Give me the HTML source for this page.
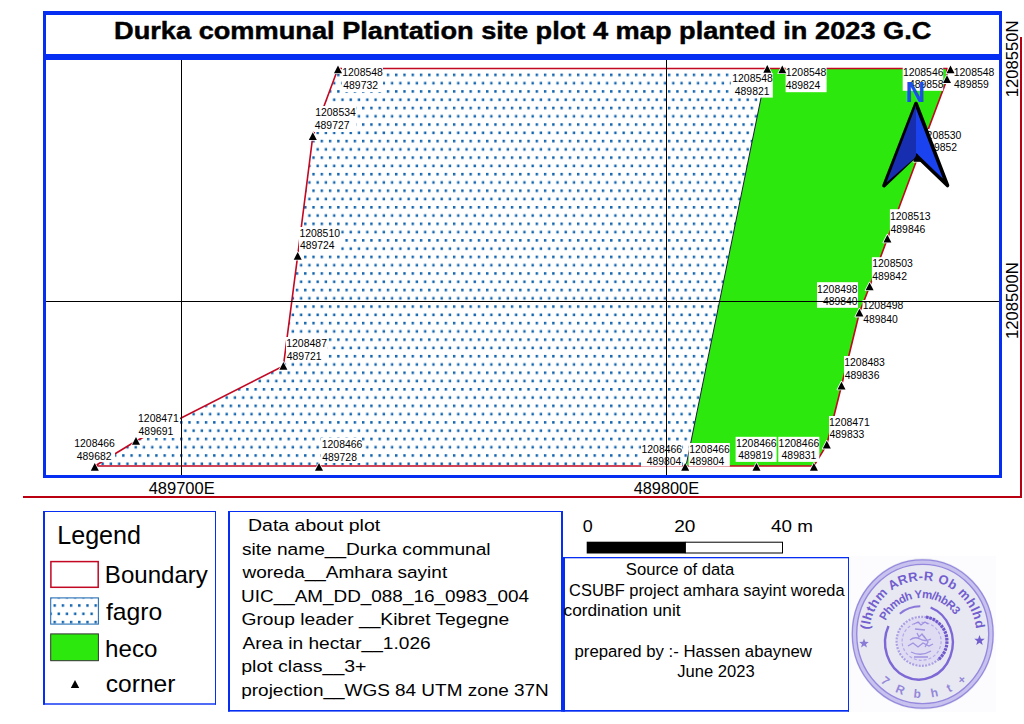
<!DOCTYPE html>
<html><head><meta charset="utf-8"><style>
html,body{margin:0;padding:0;background:#fff;}
body{width:1024px;height:724px;overflow:hidden;font-family:"Liberation Sans",sans-serif;}
svg{display:block;}
</style></head><body>
<svg width="1024" height="724" viewBox="0 0 1024 724">
<defs>
<pattern id="dots" patternUnits="userSpaceOnUse" x="626.6" y="73.6" width="8.27" height="16.548">
<rect x="0" y="0" width="2.4" height="2.6" fill="rgb(18,100,174)"/>
<rect x="4.135" y="8.274" width="2.4" height="2.6" fill="rgb(18,100,174)"/>
</pattern>
<pattern id="ldots" patternUnits="userSpaceOnUse" x="53.5" y="604.2" width="8.2" height="16.6">
<rect x="0" y="0" width="2.4" height="2.6" fill="rgb(18,100,174)"/>
<rect x="4.1" y="8.3" width="2.4" height="2.6" fill="rgb(18,100,174)"/>
</pattern>
<clipPath id="mapclip"><rect x="46" y="60" width="953" height="415"/></clipPath>
</defs>
<g clip-path="url(#mapclip)">
<polygon points="95,466 136,441 283.4,366 297.7,255.7 312.8,136.2 338,68.5 767,68.5 686,466" fill="url(#dots)"/>
<polygon points="767,68.5 946.8,68.5 947,79.3 917.5,158 887.4,238.7 869.6,286.5 859.4,312.8 841.5,385.7 826.8,444.8 813.9,466 686,466" fill="rgb(44,232,12)"/>
<line x1="767" y1="68.5" x2="686" y2="466" stroke="#1c1c40" stroke-width="1"/>
<polygon points="95,466 136,441 283.4,366 297.7,255.7 312.8,136.2 338,68.5 946.8,68.5 947,79.3 917.5,158 887.4,238.7 869.6,286.5 859.4,312.8 841.5,385.7 826.8,444.8 813.9,466" fill="none" stroke="rgb(194,8,34)" stroke-width="1.6"/>
<rect x="74" y="437" width="41" height="25" fill="#fff"/>
<rect x="138" y="411" width="42" height="27" fill="#fff"/>
<rect x="286" y="337" width="41" height="25" fill="#fff"/>
<rect x="299" y="227" width="42" height="25" fill="#fff"/>
<rect x="314" y="106" width="42" height="26" fill="#fff"/>
<rect x="342" y="66" width="41" height="26" fill="#fff"/>
<rect x="321" y="438" width="41" height="25" fill="#fff"/>
<rect x="731" y="73" width="41.799999999999955" height="24.599999999999994" fill="#fff"/>
<rect x="785.6" y="66.8" width="41.0" height="25.400000000000006" fill="#fff"/>
<rect x="902.7" y="67" width="40.5" height="23.799999999999997" fill="#fff"/>
<rect x="953.5" y="67" width="41.5" height="24" fill="#fff"/>
<rect x="920.5" y="129" width="41.5" height="25" fill="#fff"/>
<rect x="889.9" y="209.2" width="41.10000000000002" height="25.80000000000001" fill="#fff"/>
<rect x="871.9" y="257.2" width="40.30000000000007" height="24.30000000000001" fill="#fff"/>
<rect x="817" y="282.2" width="41" height="25.600000000000023" fill="#fff"/>
<rect x="862.5" y="300" width="41.5" height="25" fill="#fff"/>
<rect x="844" y="356" width="41" height="25" fill="#fff"/>
<rect x="829" y="416" width="41" height="25" fill="#fff"/>
<rect x="778.3" y="436.8" width="41.0" height="25.099999999999966" fill="#fff"/>
<rect x="735.6" y="436.8" width="41.0" height="25.099999999999966" fill="#fff"/>
<rect x="688.7" y="443" width="41.09999999999991" height="23.5" fill="#fff"/>
<rect x="641" y="443" width="41" height="23.5" fill="#fff"/>
<line x1="181.5" y1="60" x2="181.5" y2="475" stroke="#000" stroke-width="1"/>
<line x1="666.5" y1="60" x2="666.5" y2="475" stroke="#000" stroke-width="1"/>
<line x1="46" y1="301.5" x2="999" y2="301.5" stroke="#000" stroke-width="1"/>
<polygon points="94.8,463 90.8,470.8 98.8,470.8" fill="#000" stroke="#fff" stroke-width="1.6" paint-order="stroke" stroke-linejoin="round"/>
<polygon points="136,437 132,444.8 140,444.8" fill="#000" stroke="#fff" stroke-width="1.6" paint-order="stroke" stroke-linejoin="round"/>
<polygon points="283.4,362 279.4,369.8 287.4,369.8" fill="#000" stroke="#fff" stroke-width="1.6" paint-order="stroke" stroke-linejoin="round"/>
<polygon points="297.7,252 293.7,259.8 301.7,259.8" fill="#000" stroke="#fff" stroke-width="1.6" paint-order="stroke" stroke-linejoin="round"/>
<polygon points="312.8,132.2 308.8,140.0 316.8,140.0" fill="#000" stroke="#fff" stroke-width="1.6" paint-order="stroke" stroke-linejoin="round"/>
<polygon points="338,65.4 334,73.2 342,73.2" fill="#000" stroke="#fff" stroke-width="1.6" paint-order="stroke" stroke-linejoin="round"/>
<polygon points="319,463 315,470.8 323,470.8" fill="#000" stroke="#fff" stroke-width="1.6" paint-order="stroke" stroke-linejoin="round"/>
<polygon points="767.3,65 763.3,72.8 771.3,72.8" fill="#000" stroke="#fff" stroke-width="1.6" paint-order="stroke" stroke-linejoin="round"/>
<polygon points="782.3,65.5 778.3,73.3 786.3,73.3" fill="#000" stroke="#fff" stroke-width="1.6" paint-order="stroke" stroke-linejoin="round"/>
<polygon points="950.5,65.5 946.5,73.3 954.5,73.3" fill="#000" stroke="#fff" stroke-width="1.6" paint-order="stroke" stroke-linejoin="round"/>
<polygon points="947,75.3 943,83.1 951,83.1" fill="#000" stroke="#fff" stroke-width="1.6" paint-order="stroke" stroke-linejoin="round"/>
<polygon points="917.5,154 913.5,161.8 921.5,161.8" fill="#000" stroke="#fff" stroke-width="1.6" paint-order="stroke" stroke-linejoin="round"/>
<polygon points="887.4,234.7 883.4,242.5 891.4,242.5" fill="#000" stroke="#fff" stroke-width="1.6" paint-order="stroke" stroke-linejoin="round"/>
<polygon points="869.6,282.5 865.6,290.3 873.6,290.3" fill="#000" stroke="#fff" stroke-width="1.6" paint-order="stroke" stroke-linejoin="round"/>
<polygon points="859.4,308.8 855.4,316.6 863.4,316.6" fill="#000" stroke="#fff" stroke-width="1.6" paint-order="stroke" stroke-linejoin="round"/>
<polygon points="841.5,381.7 837.5,389.5 845.5,389.5" fill="#000" stroke="#fff" stroke-width="1.6" paint-order="stroke" stroke-linejoin="round"/>
<polygon points="826.8,440.8 822.8,448.6 830.8,448.6" fill="#000" stroke="#fff" stroke-width="1.6" paint-order="stroke" stroke-linejoin="round"/>
<polygon points="813.9,463 809.9,470.8 817.9,470.8" fill="#000" stroke="#fff" stroke-width="1.6" paint-order="stroke" stroke-linejoin="round"/>
<polygon points="756.5,463 752.5,470.8 760.5,470.8" fill="#000" stroke="#fff" stroke-width="1.6" paint-order="stroke" stroke-linejoin="round"/>
<polygon points="685.2,463 681.2,470.8 689.2,470.8" fill="#000" stroke="#fff" stroke-width="1.6" paint-order="stroke" stroke-linejoin="round"/>
<g font-family="Liberation Sans, sans-serif" fill="#000">
<text x="74.22" y="447.00" font-size="11" textLength="40.63" lengthAdjust="spacingAndGlyphs" xml:space="preserve">1208466</text>
<text x="76.79" y="459.90" font-size="11" textLength="34.75" lengthAdjust="spacingAndGlyphs" xml:space="preserve">489682</text>
<text x="138.02" y="421.60" font-size="11" textLength="40.69" lengthAdjust="spacingAndGlyphs" xml:space="preserve">1208471</text>
<text x="138.59" y="434.70" font-size="11" textLength="34.70" lengthAdjust="spacingAndGlyphs" xml:space="preserve">489691</text>
<text x="286.22" y="347.00" font-size="11" textLength="40.74" lengthAdjust="spacingAndGlyphs" xml:space="preserve">1208487</text>
<text x="286.79" y="359.50" font-size="11" textLength="34.70" lengthAdjust="spacingAndGlyphs" xml:space="preserve">489721</text>
<text x="299.42" y="236.70" font-size="11" textLength="40.58" lengthAdjust="spacingAndGlyphs" xml:space="preserve">1208510</text>
<text x="299.99" y="249.20" font-size="11" textLength="34.54" lengthAdjust="spacingAndGlyphs" xml:space="preserve">489724</text>
<text x="315.22" y="116.00" font-size="11" textLength="40.53" lengthAdjust="spacingAndGlyphs" xml:space="preserve">1208534</text>
<text x="314.79" y="129.20" font-size="11" textLength="34.75" lengthAdjust="spacingAndGlyphs" xml:space="preserve">489727</text>
<text x="342.22" y="75.60" font-size="11" textLength="40.63" lengthAdjust="spacingAndGlyphs" xml:space="preserve">1208548</text>
<text x="343.29" y="89.30" font-size="11" textLength="34.75" lengthAdjust="spacingAndGlyphs" xml:space="preserve">489732</text>
<text x="321.72" y="447.60" font-size="11" textLength="40.63" lengthAdjust="spacingAndGlyphs" xml:space="preserve">1208466</text>
<text x="322.29" y="460.70" font-size="11" textLength="34.64" lengthAdjust="spacingAndGlyphs" xml:space="preserve">489728</text>
<text x="732.22" y="82.00" font-size="11" textLength="40.63" lengthAdjust="spacingAndGlyphs" xml:space="preserve">1208548</text>
<text x="734.79" y="94.90" font-size="11" textLength="34.70" lengthAdjust="spacingAndGlyphs" xml:space="preserve">489821</text>
<text x="785.72" y="75.80" font-size="11" textLength="40.63" lengthAdjust="spacingAndGlyphs" xml:space="preserve">1208548</text>
<text x="785.79" y="88.60" font-size="11" textLength="34.54" lengthAdjust="spacingAndGlyphs" xml:space="preserve">489824</text>
<text x="902.92" y="75.90" font-size="11" textLength="40.63" lengthAdjust="spacingAndGlyphs" xml:space="preserve">1208546</text>
<text x="908.99" y="88.20" font-size="11" textLength="34.64" lengthAdjust="spacingAndGlyphs" xml:space="preserve">489858</text>
<text x="953.72" y="75.90" font-size="11" textLength="40.63" lengthAdjust="spacingAndGlyphs" xml:space="preserve">1208548</text>
<text x="954.09" y="88.20" font-size="11" textLength="34.70" lengthAdjust="spacingAndGlyphs" xml:space="preserve">489859</text>
<text x="920.82" y="138.70" font-size="11" textLength="40.58" lengthAdjust="spacingAndGlyphs" xml:space="preserve">1208530</text>
<text x="922.39" y="151.30" font-size="11" textLength="34.75" lengthAdjust="spacingAndGlyphs" xml:space="preserve">489852</text>
<text x="890.02" y="219.60" font-size="11" textLength="40.63" lengthAdjust="spacingAndGlyphs" xml:space="preserve">1208513</text>
<text x="890.59" y="232.80" font-size="11" textLength="34.64" lengthAdjust="spacingAndGlyphs" xml:space="preserve">489846</text>
<text x="872.22" y="266.60" font-size="11" textLength="40.63" lengthAdjust="spacingAndGlyphs" xml:space="preserve">1208503</text>
<text x="872.19" y="279.80" font-size="11" textLength="34.75" lengthAdjust="spacingAndGlyphs" xml:space="preserve">489842</text>
<text x="817.02" y="292.50" font-size="11" textLength="40.63" lengthAdjust="spacingAndGlyphs" xml:space="preserve">1208498</text>
<text x="822.99" y="305.40" font-size="11" textLength="34.59" lengthAdjust="spacingAndGlyphs" xml:space="preserve">489840</text>
<text x="862.72" y="309.30" font-size="11" textLength="40.63" lengthAdjust="spacingAndGlyphs" xml:space="preserve">1208498</text>
<text x="863.29" y="322.80" font-size="11" textLength="34.59" lengthAdjust="spacingAndGlyphs" xml:space="preserve">489840</text>
<text x="844.22" y="365.80" font-size="11" textLength="40.63" lengthAdjust="spacingAndGlyphs" xml:space="preserve">1208483</text>
<text x="844.79" y="378.70" font-size="11" textLength="34.64" lengthAdjust="spacingAndGlyphs" xml:space="preserve">489836</text>
<text x="829.02" y="425.50" font-size="11" textLength="40.69" lengthAdjust="spacingAndGlyphs" xml:space="preserve">1208471</text>
<text x="829.59" y="438.00" font-size="11" textLength="34.64" lengthAdjust="spacingAndGlyphs" xml:space="preserve">489833</text>
<text x="778.62" y="446.60" font-size="11" textLength="40.63" lengthAdjust="spacingAndGlyphs" xml:space="preserve">1208466</text>
<text x="781.59" y="458.80" font-size="11" textLength="34.70" lengthAdjust="spacingAndGlyphs" xml:space="preserve">489831</text>
<text x="736.02" y="446.60" font-size="11" textLength="40.63" lengthAdjust="spacingAndGlyphs" xml:space="preserve">1208466</text>
<text x="738.19" y="458.80" font-size="11" textLength="34.70" lengthAdjust="spacingAndGlyphs" xml:space="preserve">489819</text>
<text x="689.22" y="452.50" font-size="11" textLength="40.63" lengthAdjust="spacingAndGlyphs" xml:space="preserve">1208466</text>
<text x="689.79" y="465.40" font-size="11" textLength="34.54" lengthAdjust="spacingAndGlyphs" xml:space="preserve">489804</text>
<text x="641.52" y="452.50" font-size="11" textLength="40.63" lengthAdjust="spacingAndGlyphs" xml:space="preserve">1208466</text>
<text x="646.79" y="465.40" font-size="11" textLength="34.54" lengthAdjust="spacingAndGlyphs" xml:space="preserve">489804</text>
</g>
<polygon points="916,103.5 884,185.6 916,155.2 947.5,185.5" fill="rgb(26,66,238)" stroke="#000" stroke-width="3.6" stroke-linejoin="round"/>
<polygon points="916,105.5 886.5,182.5 916,157" fill="rgb(24,46,176)"/>
<polygon points="917,153.5 913,161.3 921,161.3" fill="#000"/>
<g font-family="Liberation Sans, sans-serif" fill="rgb(28,78,232)"><text x="905.53" y="102.20" font-size="30" font-weight="bold" textLength="19.71" lengthAdjust="spacingAndGlyphs" xml:space="preserve">N</text></g>
</g>
<rect x="43" y="11" width="959.00" height="4.00" fill="rgb(6,46,242)"/>
<rect x="43" y="11" width="3.00" height="467.00" fill="rgb(6,46,242)"/>
<rect x="999" y="11" width="3.00" height="467.00" fill="rgb(6,46,242)"/>
<rect x="43" y="54" width="959.00" height="6.00" fill="rgb(6,46,242)"/>
<rect x="43" y="475" width="959.00" height="3.00" fill="rgb(6,46,242)"/>
<rect x="1020" y="37" width="2.00" height="461.00" fill="rgb(186,0,16)"/>
<rect x="23" y="496" width="999.00" height="2.00" fill="rgb(186,0,16)"/>
<g font-family="Liberation Sans, sans-serif" fill="#000">
<text x="114.03" y="39.30" font-size="24" font-weight="bold" textLength="817.41" lengthAdjust="spacingAndGlyphs" xml:space="preserve" stroke="#000" stroke-width="0.45">Durka communal Plantation site plot 4 map planted in 2023 G.C</text>
<text x="148.67" y="493.60" font-size="17" textLength="66.06" lengthAdjust="spacingAndGlyphs" xml:space="preserve">489700E</text>
<text x="633.67" y="493.60" font-size="17" textLength="65.45" lengthAdjust="spacingAndGlyphs" xml:space="preserve">489800E</text>
<g transform="translate(1018.3,0) rotate(-90)"><text x="-97.15" y="0.00" font-size="17.4" textLength="76.68" lengthAdjust="spacingAndGlyphs" xml:space="preserve">1208550N</text></g>
<g transform="translate(1018.3,0) rotate(-90)"><text x="-339.05" y="0.00" font-size="17.4" textLength="76.68" lengthAdjust="spacingAndGlyphs" xml:space="preserve">1208500N</text></g>
</g>
<rect x="43" y="511" width="173.00" height="193.70" fill="#fff"/><rect x="43" y="511" width="173.00" height="1.00" fill="rgb(6,46,242)"/><rect x="43" y="511" width="2.00" height="193.70" fill="rgb(6,46,242)"/><rect x="215" y="511" width="1.00" height="193.70" fill="rgb(6,46,242)"/><rect x="43" y="703.3" width="173.00" height="1.40" fill="rgb(6,46,242)"/>
<g font-family="Liberation Sans, sans-serif" fill="#000">
<text x="57.29" y="543.70" font-size="25" textLength="83.69" lengthAdjust="spacingAndGlyphs" xml:space="preserve">Legend</text>
<text x="104.87" y="583.20" font-size="24" textLength="103.05" lengthAdjust="spacingAndGlyphs" xml:space="preserve">Boundary</text>
<text x="106.03" y="619.90" font-size="24" textLength="56.24" lengthAdjust="spacingAndGlyphs" xml:space="preserve">fagro</text>
<text x="105.11" y="656.80" font-size="24" textLength="52.34" lengthAdjust="spacingAndGlyphs" xml:space="preserve">heco</text>
<text x="105.82" y="692.30" font-size="24" textLength="69.66" lengthAdjust="spacingAndGlyphs" xml:space="preserve">corner</text>
</g>
<rect x="50.9" y="561.6" width="47.3" height="25.7" fill="#fff" stroke="rgb(194,8,34)" stroke-width="1.5"/>
<rect x="50.7" y="597.9" width="47.7" height="26.2" fill="url(#ldots)" stroke="rgb(40,112,182)" stroke-width="1.1"/>
<rect x="50.7" y="633.9" width="47.7" height="26.8" fill="rgb(44,232,12)" stroke="#333" stroke-width="1"/>
<polygon points="75,680 70.8,688 79.2,688" fill="#000"/>
<rect x="228" y="511" width="335.00" height="200.60" fill="#fff"/><rect x="228" y="511" width="335.00" height="1.00" fill="rgb(6,46,242)"/><rect x="228" y="511" width="2.00" height="200.60" fill="rgb(6,46,242)"/><rect x="561" y="511" width="2.00" height="200.60" fill="rgb(6,46,242)"/><rect x="228" y="710" width="335.00" height="1.60" fill="rgb(6,46,242)"/>
<g font-family="Liberation Sans, sans-serif" fill="#000">
<text x="248.04" y="531.30" font-size="17.4" textLength="132.11" lengthAdjust="spacingAndGlyphs" xml:space="preserve">Data about plot</text>
<text x="241.93" y="554.79" font-size="17.4" textLength="248.64" lengthAdjust="spacingAndGlyphs" xml:space="preserve">site name__Durka communal</text>
<text x="242.50" y="578.28" font-size="17.4" textLength="204.67" lengthAdjust="spacingAndGlyphs" xml:space="preserve">woreda__Amhara sayint</text>
<text x="241.08" y="601.77" font-size="17.4" textLength="287.96" lengthAdjust="spacingAndGlyphs" xml:space="preserve">UIC__AM_DD_088_16_0983_004</text>
<text x="241.54" y="625.26" font-size="17.4" textLength="267.65" lengthAdjust="spacingAndGlyphs" xml:space="preserve">Group leader __Kibret Tegegne</text>
<text x="242.50" y="648.75" font-size="17.4" textLength="188.18" lengthAdjust="spacingAndGlyphs" xml:space="preserve">Area in hectar__1.026</text>
<text x="241.23" y="672.24" font-size="17.4" textLength="125.26" lengthAdjust="spacingAndGlyphs" xml:space="preserve">plot class__3+</text>
<text x="241.27" y="695.73" font-size="17.4" textLength="307.54" lengthAdjust="spacingAndGlyphs" xml:space="preserve">projection__WGS 84 UTM zone 37N</text>
</g>
<rect x="586.7" y="541.7" width="98.7" height="11.8" fill="#000"/>
<rect x="685.4" y="542.2" width="97.1" height="10.8" fill="#fff" stroke="#000" stroke-width="1"/>
<g font-family="Liberation Sans, sans-serif" fill="#000">
<text x="582.78" y="532.00" font-size="17.4" textLength="9.96" lengthAdjust="spacingAndGlyphs" xml:space="preserve">0</text>
<text x="674.15" y="532.00" font-size="17.4" textLength="21.16" lengthAdjust="spacingAndGlyphs" xml:space="preserve">20</text>
<text x="771.12" y="532.00" font-size="17.4" textLength="41.87" lengthAdjust="spacingAndGlyphs" xml:space="preserve">40 m</text>
</g>
<rect x="563" y="557" width="286.10" height="154.70" fill="#fff"/><rect x="563" y="557" width="286.10" height="1.30" fill="rgb(6,46,242)"/><rect x="563" y="557" width="2.00" height="154.70" fill="rgb(6,46,242)"/><rect x="848" y="557" width="1.10" height="154.70" fill="rgb(6,46,242)"/><rect x="563" y="710" width="286.10" height="1.70" fill="rgb(6,46,242)"/>
<g font-family="Liberation Sans, sans-serif" fill="#000">
<text x="625.85" y="575.40" font-size="16.8" textLength="108.34" lengthAdjust="spacingAndGlyphs" xml:space="preserve">Source of data</text>
<text x="569.08" y="596.00" font-size="16.8" textLength="275.52" lengthAdjust="spacingAndGlyphs" xml:space="preserve">CSUBF project amhara sayint woreda</text>
<text x="563.51" y="615.90" font-size="16.8" textLength="117.02" lengthAdjust="spacingAndGlyphs" xml:space="preserve">cordination unit</text>
<text x="574.51" y="657.00" font-size="16.8" textLength="237.41" lengthAdjust="spacingAndGlyphs" xml:space="preserve">prepared by :- Hassen abaynew</text>
<text x="677.25" y="676.80" font-size="16.8" textLength="77.43" lengthAdjust="spacingAndGlyphs" xml:space="preserve">June 2023</text>
</g>
<g>
<rect x="849" y="556" width="147" height="156" fill="rgb(252,252,254)"/>
<ellipse cx="922.7" cy="634" rx="71.5" ry="75.7" fill="rgb(231,232,242)"/>
<ellipse cx="922.7" cy="634" rx="68.3" ry="72" fill="none" stroke="rgb(200,194,238)" stroke-width="4"/>
<ellipse cx="922.7" cy="634" rx="70.4" ry="74.2" fill="none" stroke="rgb(150,138,222)" stroke-width="1.3"/>
<ellipse cx="922.7" cy="634" rx="66" ry="69.6" fill="none" stroke="rgb(150,136,222)" stroke-width="1.4"/>
<path id="stT1" d="M 869.4 638.7 A 53.5 53.5 0 1 1 976 638.7" fill="none"/>
<path id="stT2" d="M 885.7 621.1 A 40 40 0 0 1 954.8 615.1" fill="none"/>
<path id="stT3" d="M 877.4 679.3 A 64 64 0 0 0 968 679.3" fill="none"/>
<g font-family="Liberation Sans, sans-serif" fill="rgb(114,94,206)" font-weight="bold">
<text font-size="13"><textPath href="#stT1" startOffset="9" textLength="158" lengthAdjust="spacing">(lhthm  ARR-R  Ob  mhlhd</textPath></text>
<text font-size="11.5"><textPath href="#stT2" startOffset="0" textLength="84" lengthAdjust="spacing">Phmdh Ym/hbR3</textPath></text>
<text font-size="12" opacity="0.7"><textPath href="#stT3" startOffset="4" textLength="95" lengthAdjust="spacing">7 R b   h  t +</textPath></text>
</g>
<polygon points="864.00,638.50 865.23,641.80 868.76,641.95 866.00,644.15 866.94,647.55 864.00,645.60 861.06,647.55 862.00,644.15 859.24,641.95 862.77,641.80" fill="rgb(114,94,206)" opacity="0.8"/>
<polygon points="979.50,635.00 980.85,638.64 984.73,638.80 981.69,641.21 982.73,644.95 979.50,642.80 976.27,644.95 977.31,641.21 974.27,638.80 978.15,638.64" fill="rgb(114,94,206)"/>
<path d="M 930.6 607.5 A 33.9 37.2 0 1 1 888.5 626" fill="none" stroke="rgb(126,104,214)" stroke-width="2.4"/>
<path d="M 899.8 613.7 A 33.9 37.2 0 0 1 920.3 606.3" fill="none" stroke="rgb(140,120,218)" stroke-width="2"/>
<ellipse cx="921.6" cy="641.3" rx="24" ry="23.5" fill="rgb(222,219,242)"/>
<ellipse cx="921.6" cy="641.3" rx="25" ry="24.5" fill="none" stroke="rgb(170,158,228)" stroke-width="2.2" stroke-dasharray="2 1.3"/>
<path d="M 926 617 A 25 24.5 0 0 1 938 660" fill="none" stroke="rgb(112,88,204)" stroke-width="3.2" stroke-dasharray="2.5 1"/>
<ellipse cx="921.6" cy="641.3" rx="19.5" ry="19" fill="none" stroke="rgb(180,170,232)" stroke-width="1.2" stroke-dasharray="3 2"/>
<g stroke="rgb(150,134,222)" stroke-width="1.3" fill="none" opacity="0.85">
<path d="M 914 624 l 4 -2 l 3 3 l 4 -3 l 3 2 M 915 629 l 10 1 M 917 633 l 2 4 l 3 -3 l 3 4 M 910 640 q 5 -4 10 -1 q 5 3 11 0 M 908 646 l 5 -3 l 5 4 l 5 -4 l 6 3 l 4 -2 M 911 652 q 10 5 20 -1 M 914 657 l 14 0 M 924 636 l 4 6 l -3 5"/>
</g>
</g>
</g>
</svg>
</body></html>
